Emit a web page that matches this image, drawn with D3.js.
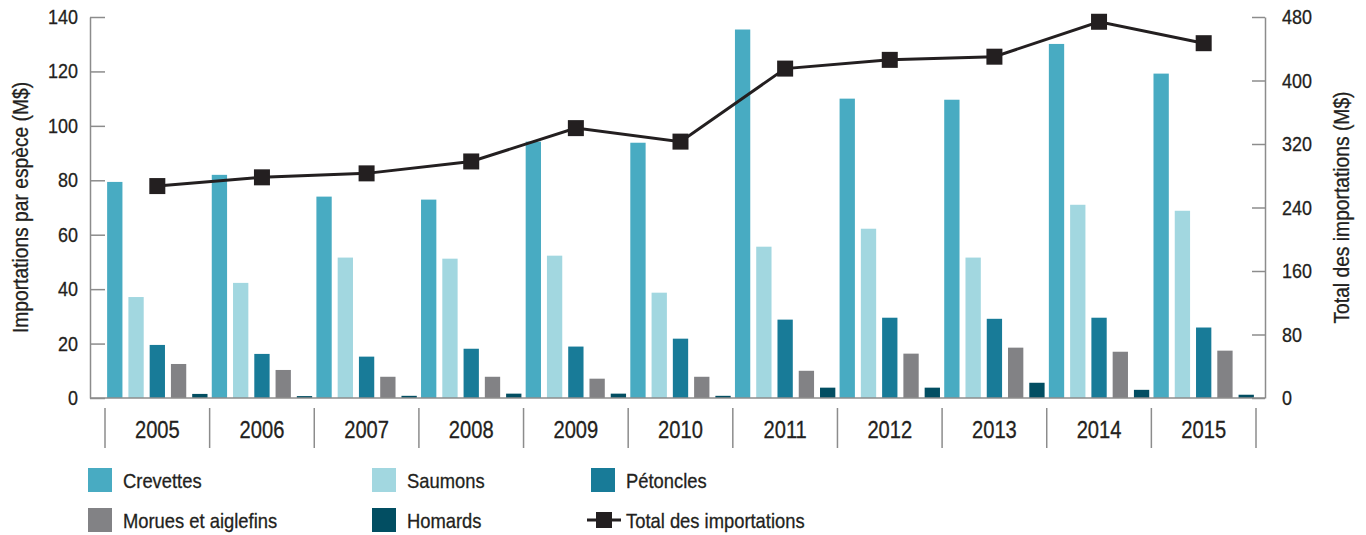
<!DOCTYPE html>
<html>
<head>
<meta charset="utf-8">
<script src="https://cdn.jsdelivr.net/npm/d3@7/dist/d3.min.js"></script>
<style>
  html, body { margin: 0; padding: 0; background: #fff; }
  svg { display: block; }
  text { font-family: "Liberation Sans", Arial, Helvetica, sans-serif; fill: #231f20; stroke: #231f20; stroke-width: 0.3px; }
</style>
</head>
<body>
<svg id="chart" width="1366" height="535"></svg>
<script>
const years = ["2005","2006","2007","2008","2009","2010","2011","2012","2013","2014","2015"];
const seriesNames = ["Crevettes","Saumons","Pétoncles","Morues et aiglefins","Homards"];
const crevettes = [79.4, 82.0, 74.0, 72.9, 94.2, 93.8, 135.4, 110.0, 109.6, 130.1, 119.2];
const saumons   = [37.1, 42.3, 51.6, 51.2, 52.3, 38.7, 55.6, 62.2, 51.6, 71.0, 68.8];
const petoncles = [19.5, 16.2, 15.2, 18.1, 18.9, 21.8, 28.8, 29.5, 29.1, 29.5, 25.9];
const morues    = [12.5, 10.3, 7.8, 7.8, 7.1, 7.8, 10.0, 16.3, 18.5, 17.0, 17.4];
const homards   = [1.5, 0.7, 0.8, 1.6, 1.6, 0.8, 3.8, 3.8, 5.6, 3.0, 1.2];
const totalImportations = [267, 278, 283, 298, 340, 323, 415, 426, 430, 474, 447];
const leftTicks = [0, 20, 40, 60, 80, 100, 120, 140];
const rightTicks = [0, 80, 160, 240, 320, 400, 480];
const leftTitle = "Importations par espèce (M$)";
const rightTitle = "Total des importations (M$)";
const totalName = "Total des importations";

const seriesValues = [crevettes, saumons, petoncles, morues, homards];
const colors = ["#48abc2", "#a2d7e0", "#187b98", "#828285", "#024e62"];
const axisColor = "#8c8c8c";
const SX = 0.875; // horizontal condensing of text

const svg = d3.select("#chart");

const plotLeft = 90, plotRight = 1265, plotTop = 17, plotBottom = 398;

const x = d3.scaleBand().domain(years).range([105, 1256]).padding(0);
const xs = d3.scaleBand().domain(seriesNames).range([0, x.bandwidth()]).paddingInner(0.28).paddingOuter(0.1);
const yL = d3.scaleLinear().domain([0, 140]).range([plotBottom, plotTop]);
const yR = d3.scaleLinear().domain([0, 480]).range([plotBottom, plotTop]);

function condenseAxisText(sel) {
  sel.each(function () {
    const t = d3.select(this);
    const xv = +t.attr("x") || 0;
    t.attr("x", xv / SX).attr("transform", `scale(${SX},1)`);
  });
}

// Bars
const groups = svg.append("g").selectAll("g")
  .data(years)
  .join("g")
  .attr("transform", d => `translate(${x(d)},0)`);

groups.selectAll("rect")
  .data((d, i) => seriesNames.map((s, j) => ({ s, j, v: seriesValues[j][i] })))
  .join("rect")
  .attr("x", d => xs(d.s))
  .attr("width", xs.bandwidth())
  .attr("y", d => yL(d.v))
  .attr("height", d => yL(0) - yL(d.v))
  .attr("fill", d => colors[d.j]);

// Baseline
svg.append("line")
  .attr("x1", plotLeft).attr("x2", plotRight)
  .attr("y1", yL(0)).attr("y2", yL(0))
  .attr("stroke", axisColor).attr("stroke-width", 1.5);

// Left axis
const gL = svg.append("g")
  .attr("transform", `translate(${plotLeft},0)`)
  .call(d3.axisLeft(yL).tickValues(leftTicks).tickSizeInner(-15).tickSizeOuter(0).tickPadding(12));
gL.select(".domain").attr("stroke", axisColor).attr("stroke-width", 1.5);
gL.selectAll(".tick line").attr("stroke", axisColor).attr("stroke-width", 1.5);
gL.selectAll(".tick text").attr("font-size", 20.5).attr("font-family", null).attr("fill", "#231f20").call(condenseAxisText);

// Right axis
const gR = svg.append("g")
  .attr("transform", `translate(${plotRight},0)`)
  .call(d3.axisRight(yR).tickValues(rightTicks).tickSizeInner(-13).tickSizeOuter(0).tickPadding(17));
gR.select(".domain").attr("stroke", axisColor).attr("stroke-width", 1.5);
gR.selectAll(".tick line").attr("stroke", axisColor).attr("stroke-width", 1.5);
gR.selectAll(".tick text").attr("font-size", 20.5).attr("font-family", null).attr("fill", "#231f20").call(condenseAxisText);

// Category separators and labels
const bounds = years.map(d => x(d)).concat([x(years[years.length - 1]) + x.bandwidth()]);
svg.append("g").selectAll("line")
  .data(bounds)
  .join("line")
  .attr("x1", d => d).attr("x2", d => d)
  .attr("y1", 408).attr("y2", 448)
  .attr("stroke", axisColor).attr("stroke-width", 1.5);

svg.append("g").selectAll("text")
  .data(years)
  .join("text")
  .attr("transform", d => `translate(${x(d) + x.bandwidth() / 2},438) scale(${SX},1)`)
  .attr("text-anchor", "middle")
  .attr("font-size", 23)
  .text(d => d);

// Axis titles
svg.append("text")
  .attr("transform", `translate(20,${(plotTop + plotBottom) / 2}) rotate(-90) scale(${SX},1)`)
  .attr("text-anchor", "middle")
  .attr("dominant-baseline", "central")
  .attr("font-size", 22)
  .text(leftTitle);

svg.append("text")
  .attr("transform", `translate(1341,${(plotTop + plotBottom) / 2}) rotate(-90) scale(${SX},1)`)
  .attr("text-anchor", "middle")
  .attr("dominant-baseline", "central")
  .attr("font-size", 22)
  .text(rightTitle);

// Total line
const line = d3.line()
  .x((d, i) => x(years[i]) + x.bandwidth() / 2)
  .y(d => yR(d));
svg.append("path")
  .datum(totalImportations)
  .attr("d", line)
  .attr("fill", "none")
  .attr("stroke", "#231f20")
  .attr("stroke-width", 3);

const ms = 16;
svg.append("g").selectAll("rect")
  .data(totalImportations)
  .join("rect")
  .attr("x", (d, i) => x(years[i]) + x.bandwidth() / 2 - ms / 2)
  .attr("y", d => yR(d) - ms / 2)
  .attr("width", ms).attr("height", ms)
  .attr("fill", "#231f20");

// Legend
const legendItems = [
  { name: seriesNames[0], color: colors[0], col: 0, row: 0 },
  { name: seriesNames[1], color: colors[1], col: 1, row: 0 },
  { name: seriesNames[2], color: colors[2], col: 2, row: 0 },
  { name: seriesNames[3], color: colors[3], col: 0, row: 1 },
  { name: seriesNames[4], color: colors[4], col: 1, row: 1 },
  { name: totalName, color: null, col: 2, row: 1 }
];
const colX = [88, 372, 591];
const rowY = [480, 520];
const lg = svg.append("g").selectAll("g")
  .data(legendItems)
  .join("g")
  .attr("transform", d => `translate(${colX[d.col]},${rowY[d.row]})`);

lg.filter(d => d.color).append("rect")
  .attr("x", 0).attr("y", -12).attr("width", 24).attr("height", 24)
  .attr("fill", d => d.color);

const lineItem = lg.filter(d => !d.color);
lineItem.append("line")
  .attr("x1", -4).attr("x2", 30).attr("y1", 0).attr("y2", 0)
  .attr("stroke", "#231f20").attr("stroke-width", 3);
lineItem.append("rect")
  .attr("x", 5).attr("y", -8).attr("width", 16).attr("height", 16)
  .attr("fill", "#231f20");

lg.append("text")
  .attr("transform", `translate(35,8) scale(${SX},1)`)
  .attr("font-size", 21)
  .text(d => d.name);
</script>
</body>
</html>
